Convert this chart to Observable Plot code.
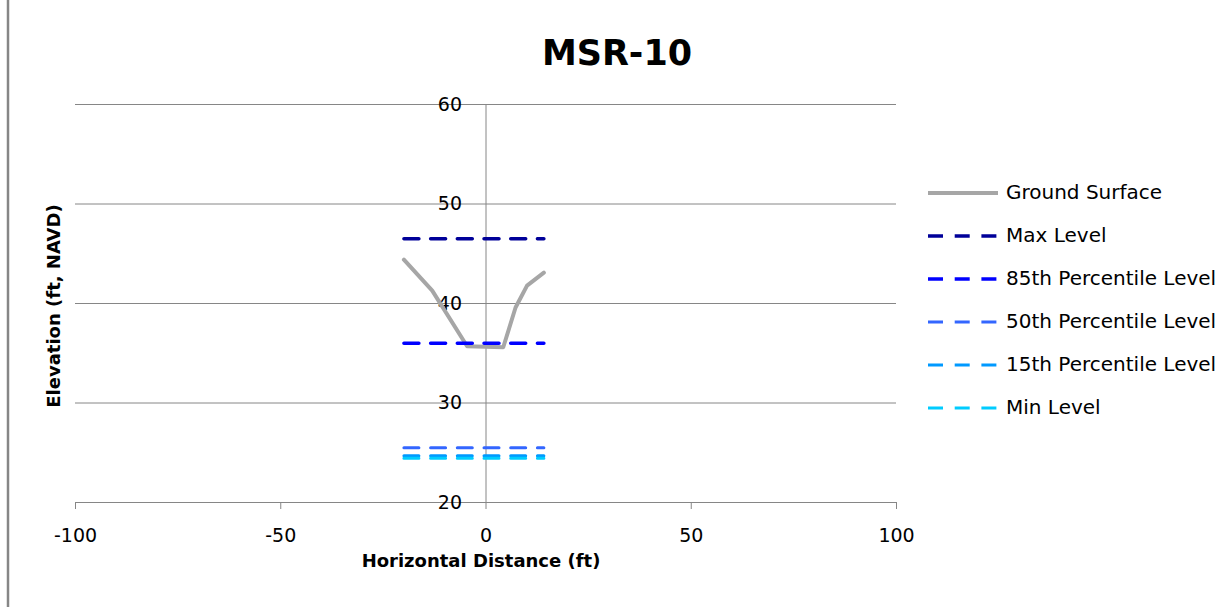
<!DOCTYPE html>
<html>
<head>
<meta charset="utf-8">
<script src="https://cdn.jsdelivr.net/npm/d3@7"></script>
<script src="https://cdn.jsdelivr.net/npm/@observablehq/plot@0.6"></script>
<style>
  html, body { margin: 0; padding: 0; background: #fff; }
  svg { font-family: "DejaVu Sans", sans-serif; }
</style>
</head>
<body>
<div id="chart"></div>
<script>
// ---- data ----
const title = "MSR-10";
const xLabel = "Horizontal Distance (ft)";
const yLabel = "Elevation (ft, NAVD)";

const xTicks = [-100, -50, 0, 50, 100];
const xTickLabels = ["-100", "-50", "0", "50", "100"];
const yTicks = [20, 30, 40, 50, 60];
const yTickLabels = ["20", "30", "40", "50", "60"];

const groundX = [-20, -13.1, -4.6, 4.2, 7.2, 10.0, 14.1];
const groundY = [44.4, 41.3, 35.7, 35.6, 39.6, 41.8, 43.1];

const levelNames = ["Max Level", "85th Percentile Level", "50th Percentile Level", "15th Percentile Level", "Min Level"];
const levelValues = [46.5, 36.0, 25.5, 24.7, 24.45];
const levelColors = ["#000099", "#0000FF", "#3366FF", "#0099FF", "#00CCFF"];
const levelWidths = [3.5, 3.5, 3, 3, 3];
const levelXStart = -20;
const levelXEnd = 14.1;

const groundName = "Ground Surface";
const groundColor = "#A6A6A6";

// ---- build ----
const ground = groundX.map((x, i) => ({x, y: groundY[i]}));
const gridColor = "#868686";
const dash = "15,11.7";

const marks = [
  Plot.ruleY(yTicks.slice(1), {stroke: gridColor, strokeWidth: 1}),
  Plot.ruleY([yTicks[0]], {stroke: gridColor, strokeWidth: 1}),
  Plot.ruleX([0], {y1: yTicks[0], y2: yTicks[yTicks.length - 1], stroke: gridColor, strokeWidth: 1}),
  Plot.ruleX(xTicks, {y1: yTicks[0], y2: yTicks[0], insetBottom: -7, stroke: gridColor, strokeWidth: 1}),
  Plot.text(xTicks, {x: d => d, y: yTicks[0], text: (d, i) => xTickLabels[i], dy: 33, fontSize: 19, fill: "#000"}),
  Plot.text(yTicks, {x: 0, y: d => d, text: (d, i) => yTickLabels[i], textAnchor: "end", dx: -24, fontSize: 19, fill: "#000"}),
  Plot.line(ground, {x: "x", y: "y", stroke: groundColor, strokeWidth: 4, strokeLinejoin: "round"})
];
levelValues.forEach((v, i) => {
  marks.push(Plot.line([{x: levelXStart, y: v}, {x: levelXEnd, y: v}], {
    x: "x", y: "y", stroke: levelColors[i], strokeWidth: levelWidths[i], strokeDasharray: dash
  }));
});

const chart = Plot.plot({
  width: 1225,
  height: 607,
  marginLeft: 75,
  marginRight: 329,
  marginTop: 104,
  marginBottom: 105,
  style: {background: "#fff", fontFamily: "DejaVu Sans, sans-serif"},
  x: {domain: [-100, 100], axis: null},
  y: {domain: [20, 60], axis: null},
  marks
});
document.getElementById("chart").appendChild(chart);

const svg = d3.select(chart);

// left border
svg.append("line").attr("x1", 8).attr("x2", 8).attr("y1", 0).attr("y2", 607)
  .attr("stroke", gridColor).attr("stroke-width", 2.5);

// title
svg.append("text").attr("x", 617).attr("y", 55).attr("text-anchor", "middle")
  .attr("dominant-baseline", "middle").attr("font-weight", "bold").attr("font-size", 35)
  .attr("fill", "#000").text(title);

// axis titles
svg.append("text").attr("x", 481).attr("y", 562).attr("text-anchor", "middle")
  .attr("dominant-baseline", "middle").attr("font-weight", "bold").attr("font-size", 18)
  .attr("fill", "#000").text(xLabel);
svg.append("text").attr("transform", "translate(55,306) rotate(-90)").attr("text-anchor", "middle")
  .attr("dominant-baseline", "middle").attr("font-weight", "bold").attr("font-size", 18)
  .attr("fill", "#000").text(yLabel);

// legend
const legendItems = [{name: groundName, color: groundColor, width: 4, dash: null}]
  .concat(levelNames.map((n, i) => ({name: n, color: levelColors[i], width: levelWidths[i], dash: dash})));
const lg = svg.append("g");
legendItems.forEach((it, i) => {
  const y = 193 + i * 43;
  const ln = lg.append("line").attr("x1", 928).attr("x2", 998).attr("y1", y).attr("y2", y)
    .attr("stroke", it.color).attr("stroke-width", it.width);
  if (it.dash) ln.attr("stroke-dasharray", it.dash);
  lg.append("text").attr("x", 1006).attr("y", y).attr("text-anchor", "start")
    .attr("dominant-baseline", "middle")
    .attr("font-size", 20).attr("fill", "#000").text(it.name);
});
</script>
</body>
</html>
